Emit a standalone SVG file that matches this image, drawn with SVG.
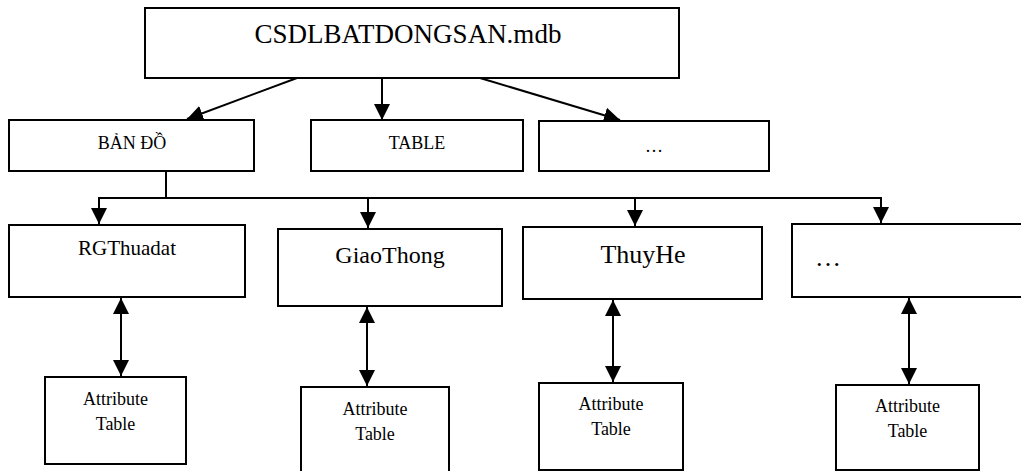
<svg xmlns="http://www.w3.org/2000/svg" width="1021" height="471" viewBox="0 0 1021 471">
  <style>
    .box { fill: #ffffff; stroke: #000000; stroke-width: 2; }
    .ln { fill: none; stroke: #000000; stroke-width: 2; }
    text { font-family: "Liberation Serif", "Times New Roman", serif; fill: #000000; text-anchor: middle; }
  </style>
  <defs>
    <marker id="ah" markerUnits="userSpaceOnUse" markerWidth="18" markerHeight="18" viewBox="0 0 18 18" refX="16" refY="9" orient="auto-start-reverse">
      <path d="M0,1 L16,9 L0,17 z" fill="#000000"/>
    </marker>
  </defs>
  <rect width="1021" height="471" fill="#ffffff"/>

  <g id="connectors">
    <line class="ln" x1="297" y1="78" x2="187" y2="119" marker-end="url(#ah)"/>
    <line class="ln" x1="382" y1="78" x2="382" y2="120" marker-end="url(#ah)"/>
    <line class="ln" x1="480" y1="78" x2="620" y2="120" marker-end="url(#ah)"/>
    <polyline class="ln" points="166,171 166,198"/>
    <polyline class="ln" points="99,210 99,198 881,198 881,210"/>
    <line class="ln" x1="99" y1="198" x2="99" y2="224" marker-end="url(#ah)"/>
    <line class="ln" x1="368" y1="198" x2="368" y2="228" marker-end="url(#ah)"/>
    <line class="ln" x1="635" y1="198" x2="635" y2="226" marker-end="url(#ah)"/>
    <line class="ln" x1="881" y1="198" x2="881" y2="223" marker-end="url(#ah)"/>
    <line class="ln" x1="121" y1="298" x2="121" y2="376" marker-start="url(#ah)" marker-end="url(#ah)"/>
    <line class="ln" x1="367" y1="307" x2="367" y2="386" marker-start="url(#ah)" marker-end="url(#ah)"/>
    <line class="ln" x1="613" y1="300" x2="613" y2="382" marker-start="url(#ah)" marker-end="url(#ah)"/>
    <line class="ln" x1="909" y1="298" x2="909" y2="384" marker-start="url(#ah)" marker-end="url(#ah)"/>
  </g>

  <g id="node-root">
    <rect class="box" x="145" y="8" width="534" height="70"/>
    <text x="408" y="43" font-size="27">CSDLBATDONGSAN.mdb</text>
  </g>

  <g id="node-bando">
    <rect class="box" x="9" y="120" width="245" height="51"/>
    <text x="132" y="149" font-size="18">BẢN ĐỒ</text>
  </g>
  <g id="node-table">
    <rect class="box" x="311" y="120" width="212" height="51"/>
    <text x="417" y="149" font-size="18">TABLE</text>
  </g>
  <g id="node-etc1">
    <rect class="box" x="539" y="121" width="230" height="50"/>
    <text x="654" y="152" font-size="18">…</text>
  </g>

  <g id="node-rgthuadat">
    <rect class="box" x="9" y="225" width="236" height="72"/>
    <text x="127" y="255" font-size="21">RGThuadat</text>
  </g>
  <g id="node-giaothong">
    <rect class="box" x="278" y="229" width="224" height="77"/>
    <text x="390" y="263" font-size="24">GiaoThong</text>
  </g>
  <g id="node-thuyhe">
    <rect class="box" x="523" y="227" width="239" height="72"/>
    <text x="643" y="263" font-size="26">ThuyHe</text>
  </g>
  <g id="node-etc2">
    <rect class="box" x="792" y="224" width="240" height="73"/>
    <text x="828" y="266" font-size="26">…</text>
  </g>

  <g id="node-attr1">
    <rect class="box" x="45" y="377" width="141" height="87"/>
    <text x="115.5" y="405" font-size="18">Attribute</text>
    <text x="115.5" y="430" font-size="18">Table</text>
  </g>
  <g id="node-attr2">
    <rect class="box" x="301" y="387" width="148" height="90"/>
    <text x="375" y="415" font-size="18">Attribute</text>
    <text x="375" y="440" font-size="18">Table</text>
  </g>
  <g id="node-attr3">
    <rect class="box" x="539" y="383" width="144" height="87"/>
    <text x="611" y="410" font-size="18">Attribute</text>
    <text x="611" y="435" font-size="18">Table</text>
  </g>
  <g id="node-attr4">
    <rect class="box" x="836" y="385" width="143" height="85"/>
    <text x="907.5" y="412" font-size="18">Attribute</text>
    <text x="907.5" y="437" font-size="18">Table</text>
  </g>
</svg>
